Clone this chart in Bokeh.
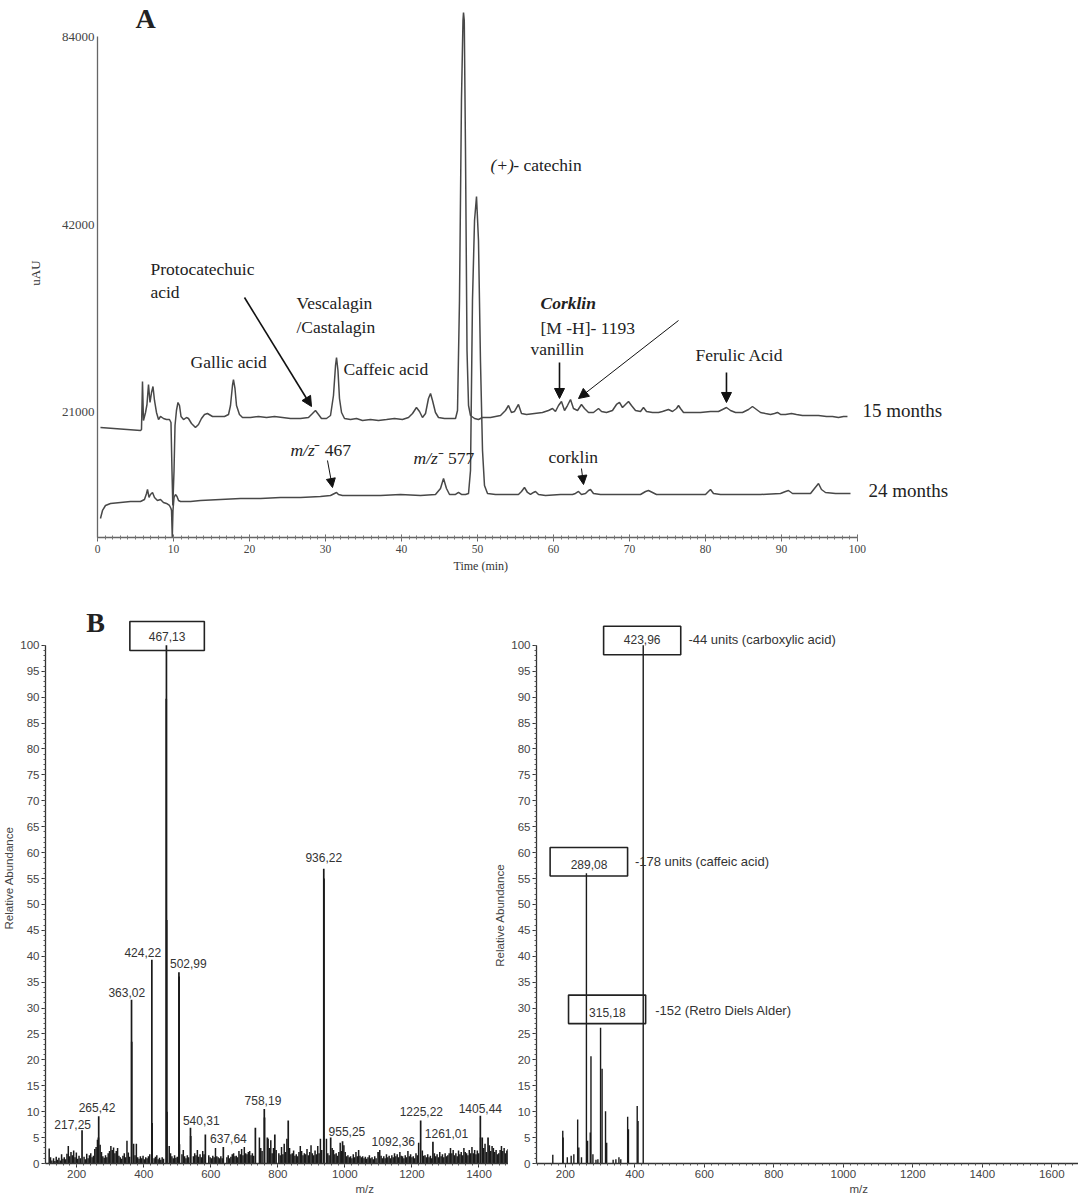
import math
from bokeh.plotting import figure
from bokeh.models import (Label, Arrow, NormalHead, SingleIntervalTicker, FixedTicker,
                          PrintfTickFormatter, BoxAnnotation, Title)
from bokeh.layouts import column, row
from bokeh.embed import file_html
from bokeh.resources import INLINE

SERIF = "Liberation Serif"
SANS = "Liberation Sans"

# ------------------------------------------------------------------ data
# Panel A: chromatograms (time in min, signal in uAU)
time_15 = [0.39, 5.66, 5.79, 5.92, 6.05, 6.32, 6.51, 6.71, 6.91, 7.11,
           7.30, 7.50, 7.76, 8.03, 8.29, 8.68, 9.08, 9.47, 9.67, 9.80,
           9.91, 10.07, 10.20, 10.39, 10.59, 10.79, 10.99, 11.32, 11.71, 11.97,
           12.37, 12.89, 13.29, 13.68, 14.08, 14.47, 15.13, 15.92, 16.71, 17.24,
           17.50, 17.76, 17.89, 18.09, 18.29, 18.68, 19.08, 20.13, 21.18, 22.24,
           23.29, 24.34, 25.39, 26.71, 27.76, 28.29, 28.68, 29.08, 29.47, 30.13,
           30.66, 31.05, 31.32, 31.45, 31.64, 31.84, 32.11, 32.50, 33.29, 34.08,
           34.87, 35.92, 36.97, 38.03, 39.08, 40.13, 40.92, 41.45, 41.97, 42.37,
           42.76, 43.16, 43.55, 43.82, 44.08, 44.47, 44.87, 45.66, 46.45, 47.11,
           47.37, 47.63, 47.89, 48.09, 48.16, 48.26, 48.42, 48.62, 48.82, 49.08,
           49.61, 50.13, 50.66, 51.71, 53.03, 53.68, 54.08, 54.47, 54.87, 55.39,
           55.79, 56.45, 57.50, 58.55, 59.34, 59.87, 60.26, 60.66, 61.05, 61.45,
           61.84, 62.24, 62.63, 63.16, 63.68, 64.08, 64.61, 65.26, 65.92, 66.32,
           66.97, 67.76, 68.29, 68.68, 69.08, 69.47, 69.87, 70.26, 70.79, 71.45,
           71.84, 72.24, 73.03, 73.82, 74.34, 75.13, 75.66, 76.18, 76.45, 76.71,
           77.11, 78.03, 79.34, 80.66, 81.71, 82.24, 82.76, 83.29, 83.95, 84.87,
           85.66, 86.18, 86.71, 87.24, 87.89, 88.55, 89.08, 89.47, 89.87, 90.53,
           91.32, 91.97, 92.76, 93.82, 94.87, 95.92, 96.71, 97.50, 98.16, 98.68]
uau_15 = [19870, 19652, 19723, 23543, 20389, 21000, 21629, 23285, 21790, 22607,
          23113, 21951, 21000, 20464, 20693, 20540, 20464, 20464, 20240, 16958,
          14904, 16958, 20017, 21155, 21790, 21548, 20693, 20464, 20616, 20540,
          20166, 19870, 20091, 20540, 20847, 20923, 20693, 20693, 20693, 20847,
          21548, 23199, 23716, 22943, 21548, 20847, 20616, 20616, 20693, 20616,
          20693, 20616, 20540, 20540, 20616, 20923, 21155, 20847, 20540, 20540,
          20769, 22359, 24973, 25721, 24517, 22113, 21000, 20540, 20464, 20540,
          20389, 20464, 20389, 20464, 20540, 20464, 20616, 20923, 21390, 21078,
          20616, 20923, 22113, 22524, 21951, 21000, 20616, 20540, 20540, 20540,
          21155, 31737, 66346, 89113, 91783, 89113, 55176, 26393, 21548, 20769,
          20540, 20464, 20616, 20616, 20769, 21155, 21548, 21000, 21078, 21629,
          20923, 20847, 20923, 21000, 21155, 21311, 21078, 21548, 21870, 21155,
          21548, 22032, 21311, 21155, 21629, 21311, 21000, 21000, 21311, 21078,
          21000, 21155, 21629, 21790, 21390, 21629, 21870, 21548, 21155, 21078,
          21390, 21078, 21000, 21000, 21078, 21233, 21078, 21311, 21548, 21311,
          21000, 21000, 21000, 21078, 21078, 21233, 21390, 21155, 21000, 21000,
          21233, 21469, 21233, 21000, 20923, 20847, 20923, 21000, 20847, 20847,
          20923, 20847, 20769, 20769, 20769, 20693, 20693, 20616, 20693, 20693]

time_24 = [0.39, 0.66, 1.05, 1.71, 3.03, 4.34, 5.66, 6.18, 6.45, 6.58,
           6.78, 6.97, 7.24, 7.50, 7.89, 8.29, 8.68, 9.08, 9.47, 9.67,
           9.74, 9.84, 9.93, 10.07, 10.26, 10.46, 10.66, 10.92, 12.24, 13.55,
           16.18, 18.82, 21.45, 24.08, 26.71, 29.34, 30.66, 31.18, 31.45, 31.71,
           32.24, 34.61, 37.24, 39.87, 42.50, 44.47, 45.13, 45.53, 45.92, 46.32,
           47.11, 47.50, 47.89, 48.42, 48.82, 49.08, 49.34, 49.61, 49.87, 50.13,
           50.39, 50.66, 50.92, 51.32, 52.37, 54.34, 55.39, 55.79, 56.18, 56.58,
           56.97, 57.37, 57.63, 58.03, 58.95, 60.92, 62.50, 62.89, 63.29, 63.68,
           64.21, 64.61, 64.87, 65.26, 66.18, 68.82, 71.45, 72.11, 72.50, 73.03,
           73.55, 75.39, 78.03, 80.00, 80.39, 80.66, 81.05, 81.97, 84.61, 87.24,
           89.87, 90.53, 90.92, 91.45, 92.50, 93.82, 94.34, 94.87, 95.26, 95.79,
           97.11, 98.42, 99.08]
uau_24 = [14207, 14633, 14904, 15015, 15072, 15126, 15126, 15238, 15578, 15809,
          15351, 15521, 15636, 15351, 15181, 15238, 15072, 15015, 14904, 14740,
          14633, 13245, 14633, 15351, 15521, 15408, 15181, 15126, 15126, 15181,
          15238, 15294, 15294, 15351, 15351, 15408, 15464, 15578, 15636, 15521,
          15464, 15464, 15464, 15521, 15464, 15521, 15868, 16464, 15868, 15521,
          15521, 15636, 15521, 15521, 15578, 16958, 31737, 42626, 46568, 39596,
          25437, 18255, 16044, 15578, 15521, 15521, 15521, 15694, 15926, 15636,
          15521, 15636, 15694, 15521, 15464, 15521, 15521, 15578, 15694, 15521,
          15578, 15752, 15809, 15578, 15521, 15521, 15521, 15694, 15752, 15636,
          15521, 15521, 15521, 15521, 15694, 15809, 15578, 15521, 15521, 15521,
          15578, 15694, 15752, 15578, 15578, 15578, 15868, 16163, 15809, 15636,
          15578, 15578, 15578]

uau_ticks = [21000, 42000, 84000]

# Panel B left: full MS spectrum (m/z, relative abundance)
ms1_mz = [467.7, 467.2, 468.5, 469.3, 424.2, 425.0, 505.0, 505.6, 506.5, 937.0,
          937.6, 363.6, 364.2, 265.7, 264.8, 216.0, 539.4, 540.2, 583.8, 637.4,
          759.6, 760.3, 733.0, 768.7, 791.0, 831.0, 957.6, 993.0, 1099.0, 1226.0,
          1262.6, 1404.0, 1405.0, 1427.0]
ms1_ab = [100.0, 89.7, 47.0, 10.0, 39.3, 7.8, 36.9, 36.1, 3.7, 56.9,
          55.0, 31.6, 23.5, 9.1, 5.0, 6.4, 6.9, 5.3, 5.6, 3.2,
          10.5, 8.9, 6.9, 5.0, 5.6, 8.3, 5.0, 4.3, 2.2, 8.3,
          4.2, 9.2, 5.0, 5.0]
ms1_noise = [(118, 2.9), (122, 1.2), (126, 0.6), (131, 1.0), (135, 0.5), (139, 1.3), (143, 0.7),
             (147, 1.1), (151, 0.6), (155, 1.8), (159, 0.9), (163, 1.2), (167, 0.8), (171, 1.9),
             (175, 3.4), (179, 1.4), (183, 2.2), (187, 1.6), (191, 2.5), (195, 1.2), (199, 2.1),
             (203, 0.9), (207, 1.5), (211, 1.0), (222, 1.3), (226, 0.8), (230, 1.9), (234, 1.0),
             (238, 1.6), (242, 2.0), (246, 1.2), (250, 1.5), (254, 2.8), (258, 3.2), (262, 4.6),
             (270, 3.6), (274, 2.2), (278, 1.4), (282, 1.1), (286, 1.6), (290, 1.2), (294, 2.0),
             (298, 2.4), (302, 3.4), (306, 2.6), (310, 3.1), (314, 2.0), (318, 2.4), (322, 3.0),
             (326, 1.5), (330, 1.2), (334, 0.9), (338, 1.5), (342, 2.0), (346, 1.2), (350, 4.4),
             (354, 2.1), (358, 1.3), (370, 3.8), (374, 1.6), (378, 3.8), (382, 1.2), (386, 0.9),
             (390, 1.4), (394, 1.0), (398, 1.5), (402, 0.8), (406, 1.2), (410, 1.0), (414, 1.4),
             (418, 1.8), (431, 1.0), (435, 1.3), (439, 1.6), (443, 0.8), (447, 1.1), (451, 0.7),
             (455, 1.2), (459, 0.9), (476, 3.4), (480, 2.0), (484, 1.4), (488, 1.0), (492, 1.6),
             (496, 1.1), (500, 1.3), (514, 1.8), (518, 2.6), (522, 1.4), (526, 1.0), (530, 1.6),
             (534, 1.2), (548, 1.4), (552, 2.0), (556, 1.6), (560, 2.6), (564, 1.3), (568, 1.8),
             (572, 1.2), (576, 2.4), (580, 1.8), (594, 1.6), (598, 1.2), (602, 1.0), (606, 1.5),
             (610, 1.2), (614, 3.0), (618, 1.4), (622, 1.2), (626, 1.0), (630, 1.4), (634, 1.0),
             (648, 1.2), (652, 1.6), (656, 1.0), (660, 1.3), (664, 1.8), (668, 2.0), (672, 1.4),
             (676, 1.5), (680, 1.2), (684, 2.4), (688, 1.8), (692, 2.8), (696, 1.6), (700, 3.2),
             (704, 2.0), (708, 1.8), (712, 2.2), (716, 2.4), (720, 1.6), (724, 2.0), (728, 1.5),
             (745, 5.0), (749, 3.0), (753, 2.4), (771, 4.8), (775, 3.0), (779, 4.5), (783, 2.0),
             (787, 3.0), (795, 2.6), (803, 2.0), (807, 1.6), (811, 3.2), (815, 1.8), (819, 3.8),
             (823, 2.2), (827, 4.8), (835, 3.0), (839, 1.8), (843, 2.0), (847, 2.5), (851, 1.5),
             (855, 1.8), (859, 1.4), (863, 2.2), (867, 3.4), (871, 2.4), (875, 1.6), (879, 2.0),
             (883, 1.8), (887, 2.8), (891, 1.6), (895, 2.2), (899, 3.5), (903, 2.0), (907, 1.6),
             (911, 2.5), (915, 1.8), (919, 3.4), (923, 2.0), (927, 4.8), (931, 2.6), (945, 4.8),
             (949, 2.0), (953, 1.6), (962, 3.0), (966, 2.6), (970, 1.8), (974, 2.0), (978, 1.5),
             (982, 2.2), (986, 4.0), (990, 2.4), (997, 3.5), (1001, 2.2), (1005, 1.4), (1009, 1.6),
             (1013, 1.2), (1017, 1.4), (1021, 1.0), (1025, 1.8), (1029, 1.2), (1033, 2.2), (1037, 1.4),
             (1041, 2.6), (1045, 1.5), (1049, 1.2), (1053, 1.4), (1057, 1.0), (1061, 1.3), (1065, 0.9),
             (1069, 1.2), (1073, 1.6), (1077, 1.0), (1081, 1.2), (1085, 0.8), (1089, 1.4), (1093, 1.0),
             (1104, 2.6), (1108, 1.5), (1112, 1.0), (1116, 1.4), (1120, 1.0), (1124, 1.8), (1128, 1.2),
             (1132, 1.5), (1136, 1.0), (1140, 1.6), (1144, 1.2), (1148, 2.0), (1152, 1.4), (1156, 1.8),
             (1160, 1.2), (1164, 2.2), (1168, 1.5), (1172, 1.4), (1176, 1.0), (1180, 1.6), (1184, 1.2),
             (1188, 2.4), (1192, 1.4), (1196, 1.8), (1200, 1.2), (1204, 1.4), (1208, 1.0), (1212, 2.0),
             (1216, 1.6), (1220, 4.0), (1231, 2.5), (1235, 1.5), (1239, 1.6), (1243, 1.2), (1247, 1.8),
             (1251, 1.2), (1255, 1.5), (1259, 1.0), (1267, 2.0), (1271, 1.4), (1275, 1.8), (1279, 1.2),
             (1283, 2.2), (1287, 1.4), (1291, 1.8), (1295, 1.2), (1299, 2.0), (1303, 1.4), (1307, 1.6),
             (1311, 2.0), (1315, 3.0), (1319, 2.0), (1323, 2.6), (1327, 1.6), (1331, 2.0), (1335, 1.4),
             (1339, 2.5), (1343, 1.8), (1347, 2.2), (1351, 1.6), (1355, 3.0), (1359, 2.2), (1363, 2.0),
             (1367, 1.6), (1371, 2.6), (1375, 2.0), (1379, 3.2), (1383, 2.0), (1387, 2.6), (1391, 1.8),
             (1395, 2.5), (1399, 2.0), (1410, 5.0), (1414, 3.0), (1418, 3.8), (1422, 2.2), (1431, 3.5),
             (1435, 2.4), (1439, 3.4), (1443, 3.0), (1447, 2.2), (1451, 2.6), (1455, 1.8), (1459, 2.0),
             (1463, 2.6), (1467, 3.4), (1471, 2.4), (1475, 3.0), (1479, 2.0), (1483, 2.5), (1487, 2.8)]
ms1_labels = ["424,22", "502,99", "363,02", "265,42", "217,25", "540,31", "637,64",
              "758,19", "955,25", "1092,36", "1225,22", "1261,01", "1405,44", "936,22"]
ms1_label_mz = [397, 533, 349.5, 260.6, 188, 571.7, 652.5,
                755.6, 1006, 1144.4, 1228, 1303, 1404, 937]
ms1_label_ab = [40.7, 38.6, 33.0, 10.8, 7.6, 8.3, 4.8,
                12.2, 6.2, 4.2, 10.0, 5.8, 10.7, 59.0]

# Panel B right: MS/MS spectrum
ms2_mz = [424.0, 260.5, 273.6, 271.6, 301.2, 305.6, 315.5, 318.8, 379.2, 381.5,
          406.7, 409.1, 235.3, 238.6, 263.8, 192.4, 193.5, 163.7, 205.5, 216.6,
          224.3, 246.3, 279.2, 288.0, 293.5, 337.4, 345.3, 354.1, 359.4]
ms2_ab = [100.0, 56.0, 20.7, 6.0, 26.2, 18.3, 10.1, 4.0, 9.0, 6.6,
          11.1, 8.2, 8.5, 3.1, 4.4, 6.3, 5.0, 1.7, 1.2, 1.5,
          1.8, 1.2, 1.8, 0.7, 0.8, 0.7, 0.8, 1.2, 0.8]

# ------------------------------------------------------------------ helpers
def lbl(p, x, y, text, size, font=SERIF, style="normal", align="left",
        baseline="middle", color="#222222", angle=0.0):
    p.add_layout(Label(x=x, y=y, text=text, text_font=font,
                       text_font_size=f"{size}px", text_font_style=style,
                       text_align=align, text_baseline=baseline,
                       text_color=color, angle=angle))


def arrow(p, x0, y0, x1, y1, size=10, width=1.6):
    p.add_layout(Arrow(end=NormalHead(size=size, fill_color="#111111",
                                      line_color="#111111", line_width=1),
                       x_start=x0, y_start=y0, x_end=x1, y_end=y1,
                       line_color="#111111", line_width=width))


def below_title(p, text, offset, font, size, color, standoff):
    p.add_layout(Title(text=text, align="left", offset=offset, text_font=font,
                       text_font_size=size, text_font_style="normal",
                       text_color=color, standoff=standoff), "below")

# ------------------------------------------------------------------ panel A
pa = figure(width=1078, height=584, x_range=(0, 129.08), y_range=(13245, 93140),
            y_axis_type="log", output_backend="svg", toolbar_location=None,
            min_border_left=97, min_border_right=0, min_border_top=8,
            min_border_bottom=47)
pa.outline_line_color = None
pa.xgrid.visible = False
pa.ygrid.visible = False
pa.background_fill_color = "white"
pa.border_fill_color = "white"

pa.line(time_15, uau_15, line_color="#484848", line_width=1.5)
pa.line(time_24, uau_24, line_color="#484848", line_width=1.5)

xa = pa.xaxis[0]
xa.ticker = SingleIntervalTicker(interval=10, num_minor_ticks=10)
xa.bounds = (0, 100)
xa.axis_line_color = "#666666"
xa.axis_line_width = 1.3
xa.major_tick_line_color = "#666666"
xa.minor_tick_line_color = "#777777"
xa.major_tick_in = 3
xa.major_tick_out = 4
xa.minor_tick_in = 2
xa.minor_tick_out = 2
xa.major_label_text_font = SERIF
xa.major_label_text_font_size = "11.5px"
xa.major_label_text_color = "#444444"
xa.major_label_standoff = 3

ya = pa.yaxis[0]
ya.ticker = FixedTicker(ticks=uau_ticks)
ya.formatter = PrintfTickFormatter(format="%d")
ya.bounds = (13245, 84000)
ya.axis_line_color = "#666666"
ya.axis_line_width = 1.3
ya.major_tick_line_color = None
ya.minor_tick_line_color = None
ya.major_tick_in = 0
ya.major_tick_out = 0
ya.major_label_standoff = 3
ya.major_label_text_font = SERIF
ya.major_label_text_font_size = "13px"
ya.major_label_text_color = "#444444"
ya.axis_label = "uAU"
ya.axis_label_text_font = SERIF
ya.axis_label_text_font_style = "normal"
ya.axis_label_text_font_size = "13px"
ya.axis_label_text_color = "#333333"
ya.axis_label_standoff = 16

below_title(pa, "Time (min)", 356, SERIF, "12px", "#333333", 2)

A = 17.5
lbl(pa, 5.0, 89780, "A", 28, style="bold")
lbl(pa, 51.7, 52210, "(+)", A, style="italic")
lbl(pa, 54.7, 52210, "- catechin", A)
lbl(pa, 6.97, 35710, "Protocatechuic", A)
lbl(pa, 6.97, 32806, "acid", A)
lbl(pa, 26.18, 31389, "Vescalagin", A)
lbl(pa, 26.18, 28835, "/Castalagin", A)
lbl(pa, 12.24, 25253, "Gallic acid", A)
lbl(pa, 32.37, 24698, "Caffeic acid", A)
lbl(pa, 25.39, 18255, "m/z", A, style="italic")
lbl(pa, 28.55, 18255, "\u207b 467", A)
lbl(pa, 41.58, 17789, "m/z", A, style="italic")
lbl(pa, 44.74, 17789, "\u207b 577", A)
lbl(pa, 56.97, 26491, "vanillin", A)
lbl(pa, 58.29, 31389, "Corklin", A, style="bold italic")
lbl(pa, 58.29, 28728, "[M -H]- 1193", A)
lbl(pa, 78.68, 26006, "Ferulic Acid", A)
lbl(pa, 59.34, 17854, "corklin", A)
lbl(pa, 100.66, 21155, "15 months", 19)
lbl(pa, 101.45, 15752, "24 months", 19)

arrow(pa, 19.34, 32088, 28.16, 21469)
arrow(pa, 60.79, 25253, 60.79, 22113)
arrow(pa, 76.45, 29480, 63.29, 22113, width=1.0)
arrow(pa, 82.76, 24337, 82.76, 21790)
arrow(pa, 30.26, 17594, 30.92, 15926, size=9, width=1.0)
arrow(pa, 63.68, 17081, 63.95, 16103, size=9, width=1.0)

# ------------------------------------------------------------------ panel B
def ms_axes(p, ylabel):
    p.outline_line_color = None
    p.xgrid.visible = False
    p.ygrid.visible = False
    p.border_fill_color = "white"
    xax = p.xaxis[0]
    yax = p.yaxis[0]
    xax.ticker = SingleIntervalTicker(interval=200, num_minor_ticks=10)
    yax.ticker = SingleIntervalTicker(interval=5, num_minor_ticks=5)
    yax.bounds = (0, 100)
    for ax in (xax, yax):
        ax.axis_line_color = "#333333"
        ax.axis_line_width = 1.3
        ax.major_tick_line_color = "#333333"
        ax.minor_tick_line_color = "#555555"
        ax.major_tick_in = 0
        ax.major_tick_out = 4
        ax.minor_tick_in = 0
        ax.minor_tick_out = 2
        ax.major_label_text_font = SANS
        ax.major_label_text_font_size = "11.5px"
        ax.major_label_text_color = "#444444"
        ax.major_label_standoff = 2
    if ylabel:
        yax.axis_label = ylabel
        yax.axis_label_text_font = SANS
        yax.axis_label_text_font_style = "normal"
        yax.axis_label_text_font_size = "11.5px"
        yax.axis_label_text_color = "#444444"
        yax.axis_label_standoff = 2


BOX = dict(fill_alpha=0, line_color="#222222", line_alpha=1.0, line_width=1.6)

pbl = figure(width=508, height=612, x_range=(107, 1488), y_range=(0, 110.2),
             output_backend="svg", toolbar_location=None,
             min_border_left=42, min_border_right=0, min_border_top=8,
             min_border_bottom=33)
ms_axes(pbl, "Relative Abundance")
noise_mz = [m for m, a in ms1_noise]
noise_ab = [a for m, a in ms1_noise]
pbl.segment(x0=noise_mz, y0=0, x1=noise_mz, y1=noise_ab, line_color="#1a1a1a", line_width=1.5)
pbl.segment(x0=ms1_mz, y0=0, x1=ms1_mz, y1=ms1_ab, line_color="#1a1a1a", line_width=1.7)
for t, x, y in zip(ms1_labels, ms1_label_mz, ms1_label_ab):
    lbl(pbl, x, y, t, 12, font=SANS, align="center", color="#333333")
pbl.add_layout(BoxAnnotation(left=358.6, right=580.8, bottom=99.0, top=104.6, **BOX))
lbl(pbl, 469.7, 101.7, "467,13", 12, font=SANS, align="center", color="#333333")
lbl(pbl, 228.5, 104.4, "B", 28, style="bold")
lbl(pbl, 1464, 47.9, "Relative Abundance", 11.5, font=SANS, align="center",
    color="#444444", angle=math.pi / 2)
below_title(pbl, "m/z", 310, SANS, "11.5px", "#444444", 0)

pbr = figure(width=570, height=612, x_range=(116.8, 1677), y_range=(0, 110.2),
             output_backend="svg", toolbar_location=None,
             min_border_left=26, min_border_right=0, min_border_top=8,
             min_border_bottom=33)
ms_axes(pbr, None)
pbr.segment(x0=ms2_mz, y0=0, x1=ms2_mz, y1=ms2_ab, line_color="#1a1a1a", line_width=1.4)
pbr.add_layout(BoxAnnotation(left=310, right=532, bottom=98.2, top=103.7, **BOX))
pbr.add_layout(BoxAnnotation(left=156, right=379, bottom=55.5, top=61.0, **BOX))
pbr.add_layout(BoxAnnotation(left=209, right=431, bottom=27.0, top=32.5, **BOX))
lbl(pbr, 421, 101.2, "423,96", 12, font=SANS, align="center", color="#333333")
lbl(pbr, 268, 57.8, "289,08", 12, font=SANS, align="center", color="#333333")
lbl(pbr, 321, 29.2, "315,18", 12, font=SANS, align="center", color="#333333")
lbl(pbr, 554, 101.1, "-44 units (carboxylic acid)", 13, font=SANS, color="#333333")
lbl(pbr, 400, 58.3, "-178 units (caffeic acid)", 13, font=SANS, color="#333333")
lbl(pbr, 458.5, 29.6, "-152 (Retro Diels Alder)", 13, font=SANS, color="#333333")
below_title(pbr, "m/z", 313, SANS, "11.5px", "#444444", 0)

layout = column(pa, row(pbl, pbr))
open("out.html", "w").write(file_html(layout, INLINE))
